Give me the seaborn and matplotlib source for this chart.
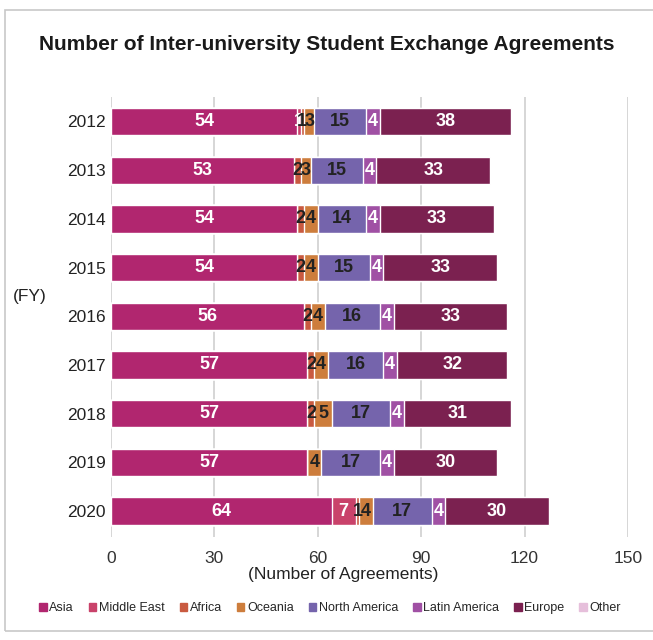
import matplotlib
matplotlib.use("Agg")
import matplotlib.pyplot as plt
import seaborn as sns
import pandas as pd
import numpy as np
from matplotlib.patches import Rectangle

years = ["2012", "2013", "2014", "2015", "2016", "2017", "2018", "2019", "2020"]
regions = ["Asia", "Middle East", "Africa", "Oceania", "North America", "Latin America", "Europe", "Other"]
asia = [54, 53, 54, 54, 56, 57, 57, 57, 64]
middle_east = [1, 0, 0, 0, 0, 0, 0, 0, 7]
africa = [1, 2, 2, 2, 2, 2, 2, 0, 1]
oceania = [3, 3, 4, 4, 4, 4, 5, 4, 4]
north_america = [15, 15, 14, 15, 16, 16, 17, 17, 17]
latin_america = [4, 4, 4, 4, 4, 4, 4, 4, 4]
europe = [38, 33, 33, 33, 33, 32, 31, 30, 30]
other = [0, 0, 0, 0, 0, 0, 0, 0, 0]
xticks = [0, 30, 60, 90, 120, 150]

colors = ["#b1266f", "#c9426a", "#c95a40", "#cd7d3c", "#7564ac", "#a050a4", "#7b2150", "#e6bfdb"]
label_colors = ["white", "white", "#222222", "#222222", "#222222", "white", "white", "#222222"]

series = [asia, middle_east, africa, oceania, north_america, latin_america, europe, other]
df = pd.DataFrame({r: s for r, s in zip(regions, series)}, index=years)
cum = df.cumsum(axis=1)

sns.set_theme(style="white")
plt.rcParams['font.family'] = ['Liberation Sans', 'DejaVu Sans']

fig = plt.figure(figsize=(6.53, 6.40), dpi=100)
ax = fig.add_axes([111/653, 1 - 537/640, (628-111)/653, (537-97)/640])

# draw cumulative bars from last to first so earlier segments overlay
for i in range(len(regions) - 1, -1, -1):
    r = regions[i]
    d = pd.DataFrame({"year": years, "value": cum[r].values})
    sns.barplot(data=d, x="value", y="year", order=years, orient="h",
                color=colors[i], saturation=1, width=0.56,
                edgecolor="white", linewidth=1.0, ax=ax, zorder=3)

# labels
for yi, yr in enumerate(years):
    left = 0
    for i, r in enumerate(regions):
        v = df.loc[yr, r]
        if v > 0:
            ax.text(left + v / 2, yi, str(v), ha="center", va="center",
                    color=label_colors[i], fontsize=13, fontweight="bold", zorder=5)
        left += v

ax.set_xlim(0, 150)
ax.set_ylim(len(years) - 1 + 0.534, -0.503)
ax.set_xticks(xticks)
ax.set_xticklabels([str(t) for t in xticks], fontsize=12.5, color="#333333")
ax.tick_params(axis="x", length=0, pad=10)
ax.tick_params(axis="y", length=0, pad=4, labelsize=12.5, labelcolor="#222222")
for t in xticks:
    ax.axvline(t, color="#d0d0d0", linewidth=1.2, zorder=1)
for s in ax.spines.values():
    s.set_visible(False)
ax.set_xlabel("")
ax.set_ylabel("")

fig.text(30/653, 1 - 297/640, "(FY)", fontsize=12.5, color="#222222", ha="center", va="center")
fig.text(343/653, 1 - 574/640, "(Number of Agreements)", fontsize=12.5, color="#222222", ha="center", va="center")
fig.text(327/653, 1 - 44/640, "Number of Inter-university Student Exchange Agreements",
         fontsize=15, fontweight="bold", color="#1a1a1a", ha="center", va="center")

# legend
handles = [Rectangle((0, 0), 1, 1, color=c) for c in colors]
fig.legend(handles, regions, loc="center", bbox_to_anchor=(330/653, 1 - 608/640), ncol=8,
           frameon=False, fontsize=9, handlelength=0.6, handleheight=0.6,
           handletextpad=0.2, columnspacing=1.2, borderpad=0)

# outer border
fig.patches.append(Rectangle((5/653, 1 - 631/640), 700/653, (631-10)/640, transform=fig.transFigure,
                             fill=False, edgecolor="#c8c8c8", linewidth=1.2))

fig.savefig("out.png", dpi=100)
